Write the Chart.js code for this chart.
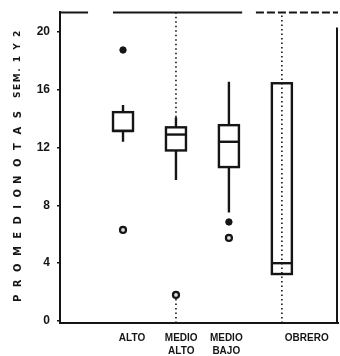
<!DOCTYPE html>
<html>
<head>
<meta charset="utf-8">
<script src="https://cdn.jsdelivr.net/npm/chart.js@4/dist/chart.umd.min.js"></script>
<style>
  html, body { margin: 0; padding: 0; background: #fff; }
  #wrap { width: 340px; height: 356px; }
</style>
</head>
<body>
<div id="wrap"><canvas id="myChart"></canvas></div>
<script>
const categories = ['ALTO', ['MEDIO', 'ALTO'], ['MEDIO', 'BAJO'], 'OBRERO'];
const groupPos = [1, 2, 3, 4];
const labelPos = [1.17, 2.1, 2.95, 4.47];   // where the category names sit under the axis

// box statistics per group
const q1 = [13.15, 11.8, 10.65, 3.25];
const median = [13.15, 12.9, 12.4, 4.0];
const q3 = [14.45, 13.4, 13.55, 16.45];
const whiskerLow = [12.4, 9.75, 7.5, null];
const whiskerHigh = [14.95, 14.1, 16.55, null];

// outliers
const filledX = [1, 3];
const filledY = [18.75, 6.85];
const hollowX = [1, 2, 3];
const hollowY = [6.3, 1.8, 5.75];

const yTicks = [0, 4, 8, 12, 16, 20];
const yMin = -0.14, yMax = 21.38;
const xMin = -0.19, xMax = 5.06;

// dotted guide lines
const guideX = [2, 2, 4];
const guideFrom = [14.1, yMin, yMin];
const guideTo = [yMax, 1.8, yMax];

const ink = '#151515';

const boxPlugin = {
  id: 'boxes',
  beforeDatasetsDraw(chart) {
    const { ctx, scales: { x, y } } = chart;
    ctx.save();
    ctx.strokeStyle = ink;
    ctx.lineWidth = 1.6;
    ctx.setLineDash([1.5, 3]);
    guideX.forEach((gx, i) => {
      const px = x.getPixelForValue(gx);
      ctx.beginPath();
      ctx.moveTo(px, y.getPixelForValue(guideFrom[i]));
      ctx.lineTo(px, y.getPixelForValue(guideTo[i]));
      ctx.stroke();
    });
    ctx.setLineDash([]);
    ctx.lineWidth = 2.4;
    groupPos.forEach((gx, i) => {
      const px = x.getPixelForValue(gx);
      const half = 10;
      if (whiskerHigh[i] !== null) {
        ctx.beginPath();
        ctx.moveTo(px, y.getPixelForValue(q3[i]));
        ctx.lineTo(px, y.getPixelForValue(whiskerHigh[i]));
        ctx.moveTo(px, y.getPixelForValue(q1[i]));
        ctx.lineTo(px, y.getPixelForValue(whiskerLow[i]));
        ctx.stroke();
      }
      const top = y.getPixelForValue(q3[i]);
      const bot = y.getPixelForValue(q1[i]);
      ctx.strokeRect(px - half, top, half * 2, bot - top);
      const my = y.getPixelForValue(median[i]);
      ctx.beginPath();
      ctx.moveTo(px - half, my);
      ctx.lineTo(px + half, my);
      ctx.stroke();
    });
    ctx.restore();
  },
  afterDraw(chart) {
    const { ctx, chartArea, scales: { x, y } } = chart;
    ctx.save();
    ctx.strokeStyle = ink;
    // top frame, broken in places
    const topY = chartArea.top + 0.5;
    ctx.lineWidth = 2;
    [[xMin, 0.34], [0.81, 3.25]].forEach(s => {
      ctx.beginPath();
      ctx.moveTo(x.getPixelForValue(s[0]), topY);
      ctx.lineTo(x.getPixelForValue(s[1]), topY);
      ctx.stroke();
    });
    ctx.setLineDash([8, 3]);
    ctx.beginPath();
    ctx.moveTo(x.getPixelForValue(3.51), topY);
    ctx.lineTo(chartArea.right, topY);
    ctx.stroke();
    ctx.setLineDash([]);
    // right frame
    ctx.beginPath();
    ctx.moveTo(chartArea.right - 1, y.getPixelForValue(20.3));
    ctx.lineTo(chartArea.right - 1, chartArea.bottom);
    ctx.stroke();

    // vertical axis title, spaced out letters
    ctx.translate(18, 0);
    ctx.rotate(-Math.PI / 2);
    ctx.fillStyle = ink;
    ctx.textBaseline = 'middle';
    ctx.textAlign = 'left';
    let pos = -302;
    const parts = [
      ['PROMEDIO', 'bold 10px "DejaVu Sans"', 7.45, -2.5],
      ['NOTAS', 'bold 10px "DejaVu Sans"', 8.6, 4.4],
      ['SEM. 1 Y 2', 'bold 9px "DejaVu Sans"', 1.55, 0]
    ];
    parts.forEach(([txt, font, sp, gap]) => {
      ctx.font = font;
      for (const ch of txt) {
        ctx.fillText(ch, pos, 0);
        pos += ctx.measureText(ch).width + sp;
      }
      pos += gap;
    });
    ctx.restore();
  }
};

new Chart('myChart', {
  type: 'scatter',
  data: {
    datasets: [
      {
        label: 'Atípicos',
        data: filledX.map((v, i) => ({ x: v, y: filledY[i] })),
        pointRadius: 3.2,
        backgroundColor: ink,
        borderColor: ink,
        borderWidth: 1
      },
      {
        label: 'Atípicos extremos',
        data: hollowX.map((v, i) => ({ x: v, y: hollowY[i] })),
        pointRadius: 3,
        backgroundColor: '#ddd',
        borderColor: ink,
        borderWidth: 2.2
      }
    ]
  },
  options: {
    responsive: true,
    maintainAspectRatio: false,
    animation: false,
    events: [],
    layout: { autoPadding: false, padding: { top: 12, right: 2, left: 0, bottom: 0 } },
    plugins: { legend: { display: false }, tooltip: { enabled: false } },
    scales: {
      x: {
        type: 'linear',
        min: xMin,
        max: xMax,
        afterBuildTicks: s => { s.ticks = labelPos.map(v => ({ value: v })); },
        afterFit: s => { s.height = 33; s.paddingLeft = 0; s.paddingRight = 0; },
        grid: { display: false },
        border: { color: ink, width: 2 },
        ticks: {
          color: ink,
          padding: 1,
          maxRotation: 0,
          autoSkip: false,
          font: { family: 'Liberation Sans', size: 10, weight: 'bold', lineHeight: 1.3 },
          callback: (v, i) => categories[i]
        }
      },
      y: {
        min: yMin,
        max: yMax,
        afterBuildTicks: s => { s.ticks = yTicks.map(v => ({ value: v })); },
        afterFit: s => { s.width = 60; s.paddingTop = 0; s.paddingBottom = 0; },
        grid: { display: true, drawOnChartArea: false, drawTicks: true, tickLength: 3, color: ink, lineWidth: 1.5 },
        border: { color: ink, width: 2 },
        ticks: {
          color: ink,
          padding: 7,
          font: { family: 'Liberation Sans', size: 12, weight: 'bold' }
        }
      }
    }
  },
  plugins: [boxPlugin]
});
</script>
</body>
</html>
